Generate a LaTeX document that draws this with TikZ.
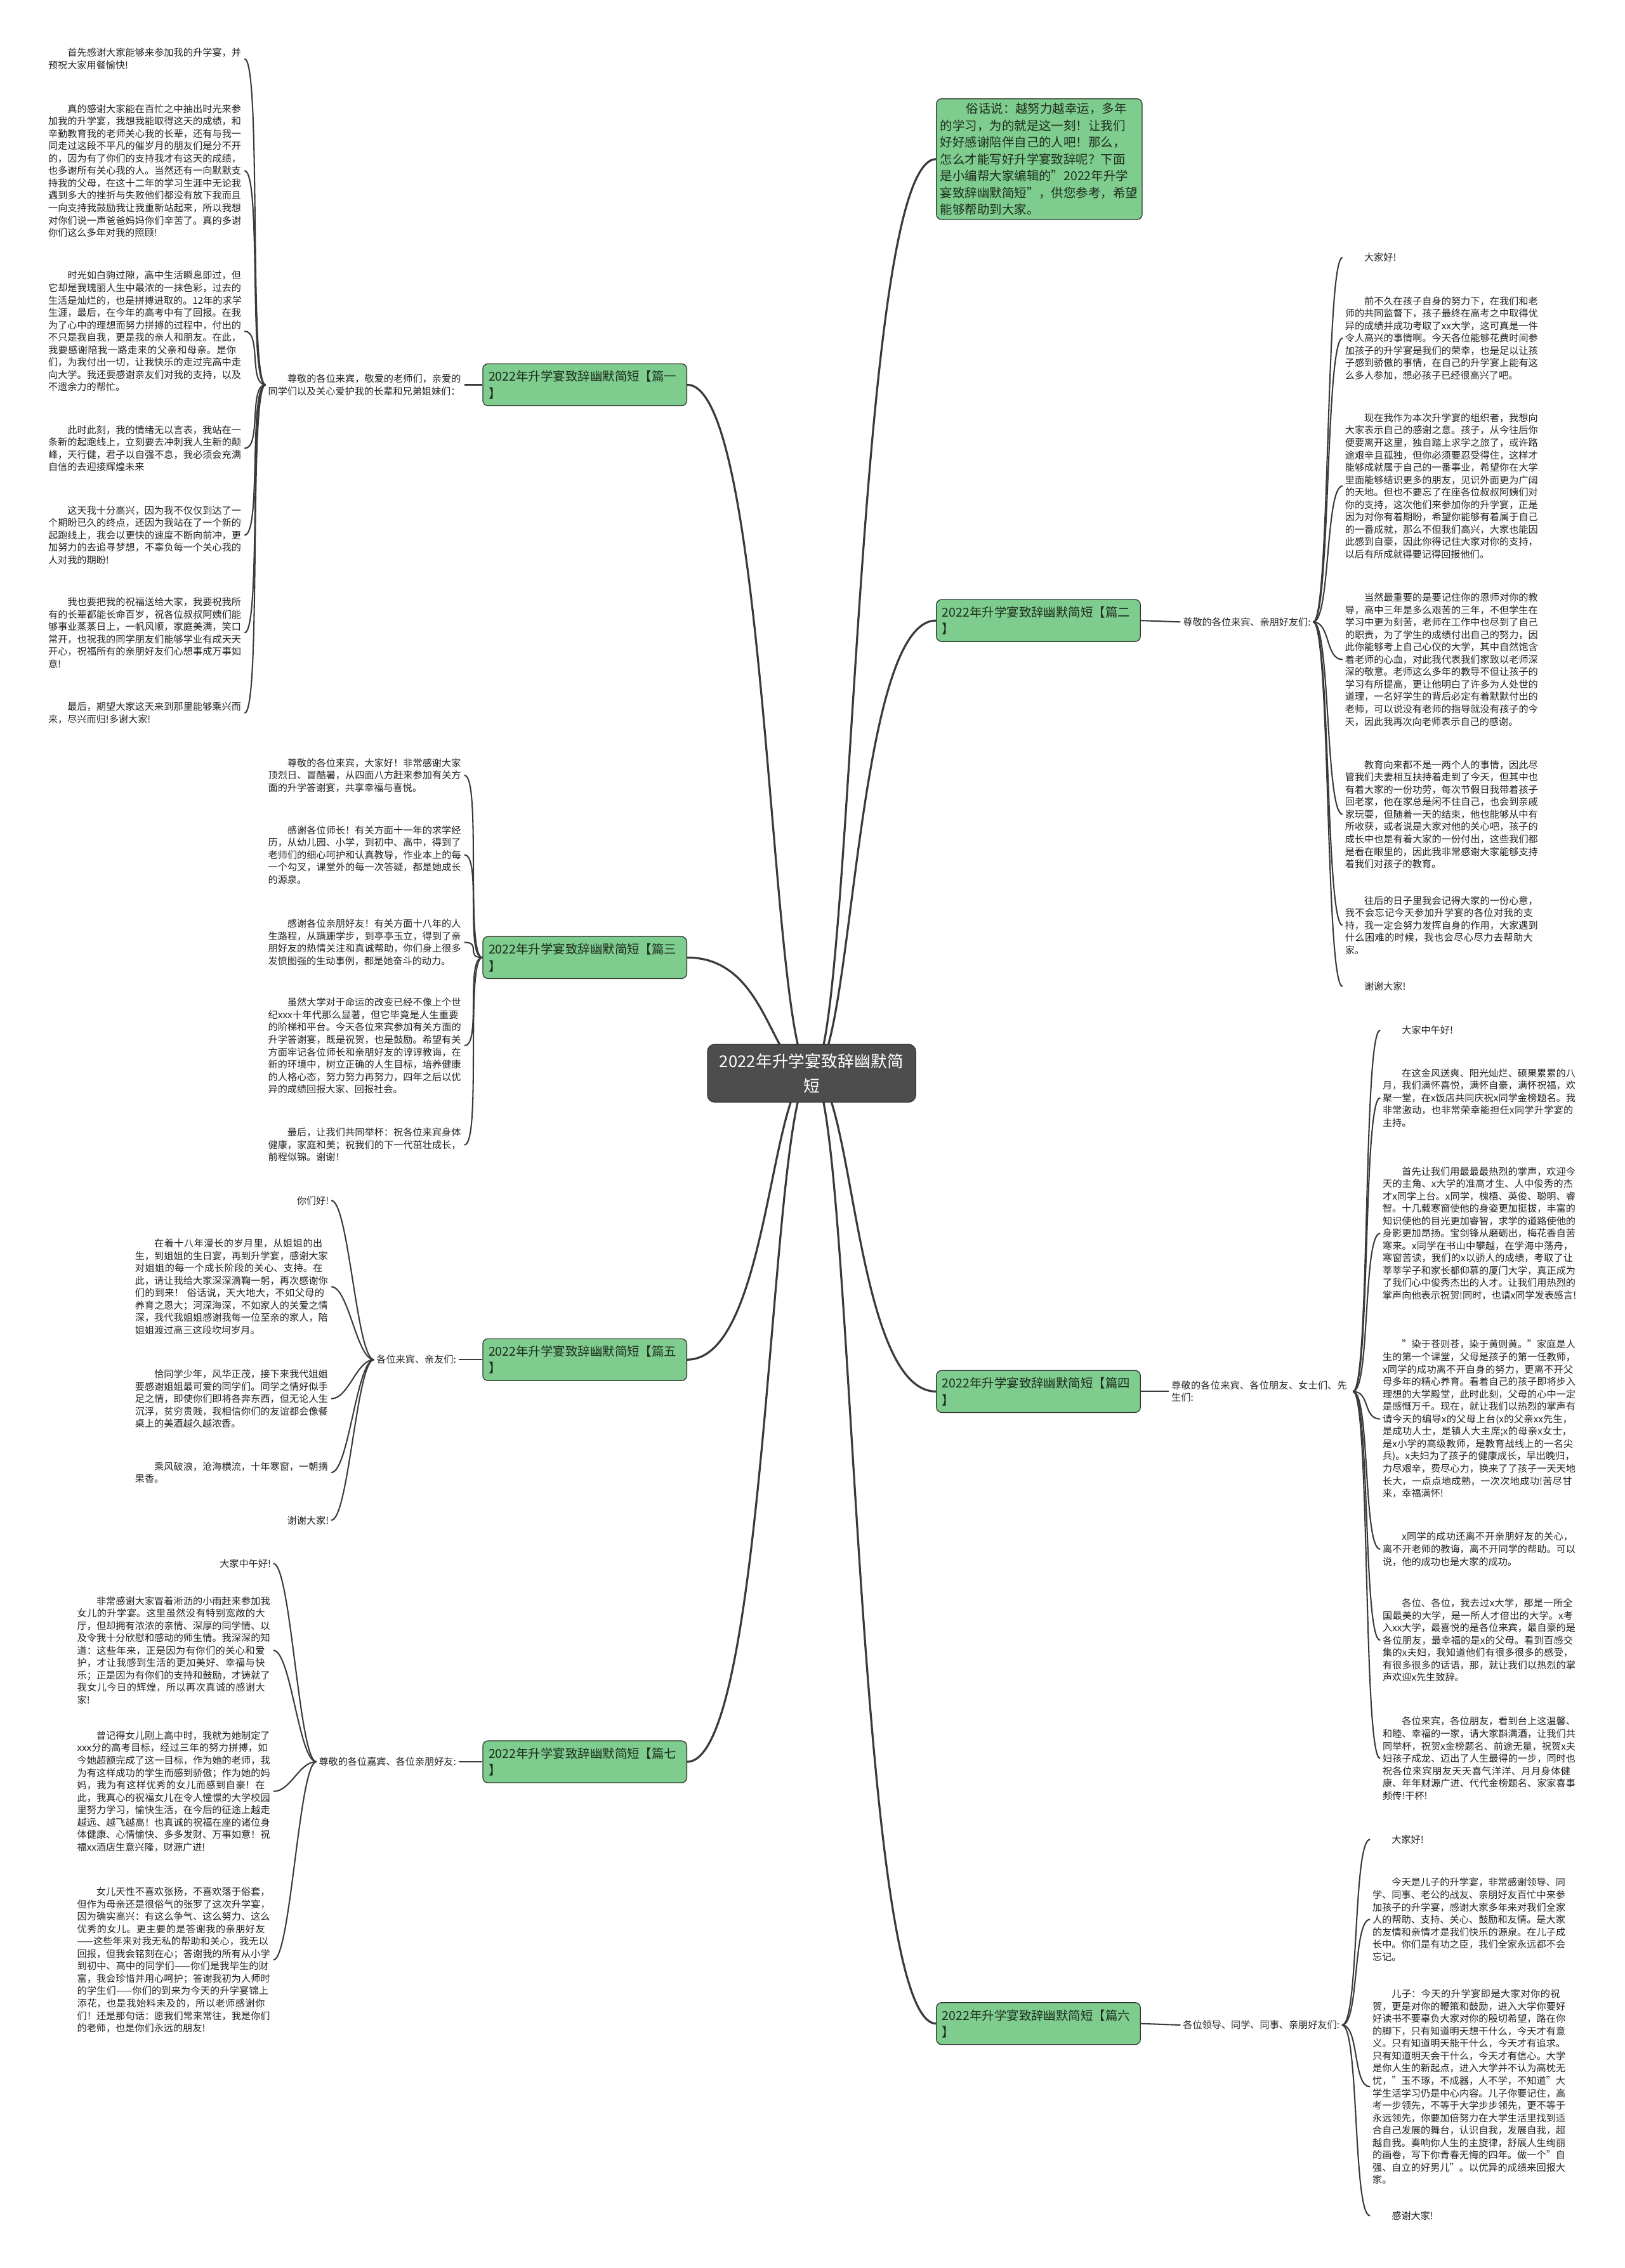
\documentclass[tikz,border=0pt]{standalone}
\usepackage{fontspec}
\setmainfont{Noto Sans CJK SC}
\XeTeXlinebreaklocale "zh"
\XeTeXlinebreakskip=0pt plus 1pt
\pgfdeclarelayer{bg}
\pgfsetlayers{bg,main}
\definecolor{gfill}{RGB}{127,204,143}
\definecolor{gline}{RGB}{45,55,45}
\definecolor{gtext}{RGB}{30,45,30}
\definecolor{cfill}{RGB}{77,77,77}
\definecolor{lk}{RGB}{58,58,58}
\definecolor{txt}{RGB}{34,34,34}
\newcommand{\pind}{\hspace*{2em}}
\tikzset{
  para/.style={font=\fontsize{9.45pt}{12.2pt}\selectfont, text=txt, text width=190.5pt, align=left, inner sep=0.08cm},
  shortp/.style={font=\fontsize{9.45pt}{12.2pt}\selectfont, text=txt, inner sep=0.08cm},
  topic/.style={draw=gline, line width=0.8pt, fill=gfill, rounded corners=0.18cm,
    font=\fontsize{12.15pt}{16.5pt}\selectfont, text=gtext, text width=6.65cm, align=left,
    inner xsep=0.2cm, inner ysep=0.15cm, minimum height=1.45cm},
  root/.style={draw=cfill!70!black, line width=0.8pt, fill=cfill, rounded corners=0.25cm,
    font=\fontsize{16pt}{24pt}\selectfont, text=white, text width=6.8cm, align=center,
    minimum width=7.2cm, minimum height=2cm, inner sep=0.15cm},
  link/.style={draw=lk, line width=1.3pt},
  mainlink/.style={draw=lk, line width=2pt},
}
\begin{document}
\begin{tikzpicture}[x=0.05cm,y=-0.05cm]
\useasboundingbox (0,0) rectangle (1123,1568);

% ---------- root and topics ----------
\node[root] (C) at (561,742) {2022年升学宴致辞幽默简\\短};
\node[topic, anchor=north west, text width=6.85cm, inner xsep=0.13cm] (intro) at (647,68) {\hspace*{2.1em}俗话说：越努力越幸运，多年\\的学习，为的就是这一刻！让我们\\好好感谢陪伴自己的人吧！那么，\\怎么才能写好升学宴致辞呢？下面\\是小编帮大家编辑的"2022年升学\\宴致辞幽默简短"，供您参考，希望\\能够帮助到大家。};
\node[topic, anchor=east] (b1) at (475,266) {2022年升学宴致辞幽默简短【篇一\\】};
\node[topic, anchor=west] (b2) at (647,429) {2022年升学宴致辞幽默简短【篇二\\】};
\node[topic, anchor=east] (b3) at (475,662) {2022年升学宴致辞幽默简短【篇三\\】};
\node[topic, anchor=west] (b4) at (647,962) {2022年升学宴致辞幽默简短【篇四\\】};
\node[topic, anchor=east] (b5) at (475,940) {2022年升学宴致辞幽默简短【篇五\\】};
\node[topic, anchor=west] (b6) at (647,1399) {2022年升学宴致辞幽默简短【篇六\\】};
\node[topic, anchor=east] (b7) at (475,1218) {2022年升学宴致辞幽默简短【篇七\\】};

% ---------- labels ----------
\node[para, anchor=east] (l1) at (321,266) {\pind 尊敬的各位来宾，敬爱的老师们，亲爱的同学们以及关心爱护我的长辈和兄弟姐妹们：};
\node[shortp, anchor=west] (l2) at (816,430) {尊敬的各位来宾、亲朋好友们:};
\node[para, anchor=west, text width=176pt] (l4) at (808,962) {尊敬的各位来宾、各位朋友、女士们、先生们:};
\node[shortp, anchor=east] (l5) at (317,940) {各位来宾、亲友们:};
\node[shortp, anchor=west] (l6) at (816,1400) {各位领导、同学、同事、亲朋好友们:};
\node[shortp, anchor=east] (l7) at (317,1218) {尊敬的各位嘉宾、各位亲朋好友:};

% ---------- branch 1 ----------
\node[para, anchor=east] (p11) at (169,40.7) {\pind 首先感谢大家能够来参加我的升学宴，并预祝大家用餐愉快!};
\node[para, anchor=east] (p12) at (169,118) {\pind 真的感谢大家能在百忙之中抽出时光来参加我的升学宴，我想我能取得这天的成绩，和辛勤教育我的老师关心我的长辈，还有与我一同走过这段不平凡的催岁月的朋友们是分不开的，因为有了你们的支持我才有这天的成绩，也多谢所有关心我的人。当然还有一向默默支持我的父母，在这十二年的学习生涯中无论我遇到多大的挫折与失败他们都没有放下我而且一向支持我鼓励我让我重新站起来，所以我想对你们说一声爸爸妈妈你们辛苦了。真的多谢你们这么多年对我的照顾!};
\node[para, anchor=east] (p13) at (169,229) {\pind 时光如白驹过隙，高中生活瞬息即过，但它却是我瑰丽人生中最浓的一抹色彩，过去的生活是灿烂的，也是拼搏进取的。12年的求学生涯，最后，在今年的高考中有了回报。在我为了心中的理想而努力拼搏的过程中，付出的不只是我自我，更是我的亲人和朋友。在此，我要感谢陪我一路走来的父亲和母亲。是你们，为我付出一切，让我快乐的走过完高中走向大学。我还要感谢亲友们对我的支持，以及不遗余力的帮忙。};
\node[para, anchor=east] (p14) at (169,310) {\pind 此时此刻，我的情绪无以言表，我站在一条新的起跑线上，立刻要去冲刺我人生新的颠峰，天行健，君子以自强不息，我必须会充满自信的去迎接辉煌未来};
\node[para, anchor=east] (p15) at (169,370) {\pind 这天我十分高兴，因为我不仅仅到达了一个期盼已久的终点，还因为我站在了一个新的起跑线上，我会以更快的速度不断向前冲，更加努力的去追寻梦想，不辜负每一个关心我的人对我的期盼!};
\node[para, anchor=east] (p16) at (169,437.5) {\pind 我也要把我的祝福送给大家，我要祝我所有的长辈都能长命百岁，祝各位叔叔阿姨们能够事业蒸蒸日上，一帆风顺，家庭美满，笑口常开，也祝我的同学朋友们能够学业有成天天开心，祝福所有的亲朋好友们心想事成万事如意!};
\node[para, anchor=east] (p17) at (169,493) {\pind 最后，期望大家这天来到那里能够乘兴而来，尽兴而归!多谢大家!};

% ---------- branch 3 ----------
\node[para, anchor=east] (p31) at (321,536) {\pind 尊敬的各位来宾，大家好！非常感谢大家顶烈日、冒酷暑，从四面八方赶来参加有关方面的升学答谢宴，共享幸福与喜悦。};
\node[para, anchor=east] (p32) at (321,591) {\pind 感谢各位师长！有关方面十一年的求学经历，从幼儿园、小学，到初中、高中，得到了老师们的细心呵护和认真教导，作业本上的每一个勾叉，课堂外的每一次答疑，都是她成长的源泉。};
\node[para, anchor=east] (p33) at (321,651.5) {\pind 感谢各位亲朋好友！有关方面十八年的人生路程，从蹒跚学步，到亭亭玉立，得到了亲朋好友的热情关注和真诚帮助，你们身上很多发愤图强的生动事例，都是她奋斗的动力。};
\node[para, anchor=east] (p34) at (321,723) {\pind 虽然大学对于命运的改变已经不像上个世纪xxx十年代那么显著，但它毕竟是人生重要的阶梯和平台。今天各位来宾参加有关方面的升学答谢宴，既是祝贺，也是鼓励。希望有关方面牢记各位师长和亲朋好友的谆谆教诲，在新的环境中，树立正确的人生目标，培养健康的人格心态，努力努力再努力，四年之后以优异的成绩回报大家、回报社会。};
\node[para, anchor=east] (p35) at (321,791.5) {\pind 最后，让我们共同举杯：祝各位来宾身体健康，家庭和美；祝我们的下一代茁壮成长，前程似锦。谢谢！};

% ---------- branch 5 ----------
\node[shortp, anchor=east] (p51) at (229,830) {\pind 你们好!};
\node[para, anchor=east] (p52) at (229,889.6) {\pind 在着十八年漫长的岁月里，从姐姐的出生，到姐姐的生日宴，再到升学宴，感谢大家对姐姐的每一个成长阶段的关心、支持。在此，请让我给大家深深滴鞠一躬，再次感谢你们的到来！ 俗话说，天大地大，不如父母的养育之恩大；河深海深，不如家人的关爱之情深，我代我姐姐感谢我每一位至亲的家人，陪姐姐渡过高三这段坎坷岁月。};
\node[para, anchor=east] (p53) at (229,967) {\pind 恰同学少年，风华正茂，接下来我代姐姐要感谢姐姐最可爱的同学们。同学之情好似手足之情，即使你们即将各奔东西，但无论人生沉浮，贫穷贵贱，我相信你们的友谊都会像餐桌上的美酒越久越浓香。};
\node[para, anchor=east] (p54) at (229,1018) {\pind 乘风破浪，沧海横流，十年寒窗，一朝摘果香。};
\node[shortp, anchor=east] (p55) at (229,1051) {\pind 谢谢大家!};

% ---------- branch 7 ----------
\node[shortp, anchor=east] (p71) at (189,1081) {\pind 大家中午好!};
\node[para, anchor=east] (p72) at (189,1141) {\pind 非常感谢大家冒着淅沥的小雨赶来参加我女儿的升学宴。这里虽然没有特别宽敞的大厅，但却拥有浓浓的亲情、深厚的同学情、以及令我十分欣慰和感动的师生情。我深深的知道：这些年来，正是因为有你们的关心和爱护，才让我感到生活的更加美好、幸福与快乐；正是因为有你们的支持和鼓励，才铸就了我女儿今日的辉煌，所以再次真诚的感谢大家!};
\node[para, anchor=east] (p73) at (189,1238.5) {\pind 曾记得女儿刚上高中时，我就为她制定了xxx分的高考目标，经过三年的努力拼搏，如今她超额完成了这一目标，作为她的老师，我为有这样成功的学生而感到骄傲；作为她的妈妈，我为有这样优秀的女儿而感到自豪！在此，我真心的祝福女儿在令人憧憬的大学校园里努力学习，愉快生活，在今后的征途上越走越远、越飞越高！也真诚的祝福在座的诸位身体健康、心情愉快、多多发财、万事如意！祝福xx酒店生意兴隆，财源广进!};
\node[para, anchor=east] (p74) at (189,1355) {\pind 女儿天性不喜欢张扬，不喜欢落于俗套，但作为母亲还是很俗气的张罗了这次升学宴，因为确实高兴：有这么争气、这么努力、这么优秀的女儿。更主要的是答谢我的亲朋好友——这些年来对我无私的帮助和关心，我无以回报，但我会铭刻在心；答谢我的所有从小学到初中、高中的同学们——你们是我毕生的财富，我会珍惜并用心呵护；答谢我初为人师时的学生们——你们的到来为今天的升学宴锦上添花，也是我始料未及的，所以老师感谢你们！还是那句话：愿我们常来常往，我是你们的老师，也是你们永远的朋友!};

% ---------- branch 2 ----------
\node[shortp, anchor=west] (p21) at (928,178) {\pind 大家好!};
\node[para, anchor=west] (p22) at (928,233.8) {\pind 前不久在孩子自身的努力下，在我们和老师的共同监督下，孩子最终在高考之中取得优异的成绩并成功考取了xx大学，这可真是一件令人高兴的事情啊。今天各位能够花费时间参加孩子的升学宴是我们的荣幸，也是足以让孩子感到骄傲的事情，在自己的升学宴上能有这么多人参加，想必孩子已经很高兴了吧。};
\node[para, anchor=west] (p23) at (928,336) {\pind 现在我作为本次升学宴的组织者，我想向大家表示自己的感谢之意。孩子，从今往后你便要离开这里，独自踏上求学之旅了，或许路途艰辛且孤独，但你必须要忍受得住，这样才能够成就属于自己的一番事业，希望你在大学里面能够结识更多的朋友，见识外面更为广阔的天地。但也不要忘了在座各位叔叔阿姨们对你的支持，这次他们来参加你的升学宴，正是因为对你有着期盼，希望你能够有着属于自己的一番成就，那么不但我们高兴，大家也能因此感到自豪，因此你得记住大家对你的支持，以后有所成就得要记得回报他们。};
\node[para, anchor=west] (p24) at (928,456) {\pind 当然最重要的是要记住你的恩师对你的教导，高中三年是多么艰苦的三年，不但学生在学习中更为刻苦，老师在工作中也尽到了自己的职责，为了学生的成绩付出自己的努力，因此你能够考上自己心仪的大学，其中自然饱含着老师的心血，对此我代表我们家致以老师深深的敬意。老师这么多年的教导不但让孩子的学习有所提高，更让他明白了许多为人处世的道理，一名好学生的背后必定有着默默付出的老师，可以说没有老师的指导就没有孩子的今天，因此我再次向老师表示自己的感谢。};
\node[para, anchor=west] (p25) at (928,563) {\pind 教育向来都不是一两个人的事情，因此尽管我们夫妻相互扶持着走到了今天，但其中也有着大家的一份功劳，每次节假日我带着孩子回老家，他在家总是闲不住自己，也会到亲戚家玩耍，但随着一天的结束，他也能够从中有所收获，或者说是大家对他的关心吧，孩子的成长中也是有着大家的一份付出，这些我们都是看在眼里的，因此我非常感谢大家能够支持着我们对孩子的教育。};
\node[para, anchor=west] (p26) at (928,639.7) {\pind 往后的日子里我会记得大家的一份心意，我不会忘记今天参加升学宴的各位对我的支持，我一定会努力发挥自身的作用，大家遇到什么困难的时候，我也会尽心尽力去帮助大家。};
\node[shortp, anchor=west] (p27) at (928,682) {\pind 谢谢大家!};

% ---------- branch 4 ----------
\node[shortp, anchor=west] (p41) at (954,712.3) {\pind 大家中午好!};
\node[para, anchor=west] (p42) at (954,759) {\pind 在这金风送爽、阳光灿烂、硕果累累的八月，我们满怀喜悦，满怀自豪，满怀祝福，欢聚一堂，在x饭店共同庆祝x同学金榜题名。我非常激动，也非常荣幸能担任x同学升学宴的主持。};
\node[para, anchor=west] (p43) at (954,852.7) {\pind 首先让我们用最最最热烈的掌声，欢迎今天的主角、x大学的准高才生、人中俊秀的杰才x同学上台。x同学，槐梧、英俊、聪明、睿智。十几载寒窗使他的身姿更加挺拔，丰富的知识使他的目光更加睿智，求学的道路使他的身影更加昂扬。宝剑锋从磨砺出，梅花香自苦寒来。x同学在书山中攀越，在学海中荡舟，寒窗苦读，我们的x以骄人的成绩，考取了让莘莘学子和家长都仰慕的厦门大学，真正成为了我们心中俊秀杰出的人才。让我们用热烈的掌声向他表示祝贺!同时，也请x同学发表感言!};
\node[para, anchor=west] (p44) at (954,981) {\pind "染于苍则苍，染于黄则黄。"家庭是人生的第一个课堂，父母是孩子的第一任教师，x同学的成功离不开自身的努力，更离不开父母多年的精心养育。看着自己的孩子即将步入理想的大学殿堂，此时此刻，父母的心中一定是感慨万千。现在，就让我们以热烈的掌声有请今天的编导x的父母上台(x的父亲xx先生，是成功人士，是镇人大主席;x的母亲x女士，是x小学的高级教师，是教育战线上的一名尖兵)。x夫妇为了孩子的健康成长，早出晚归，力尽艰辛，费尽心力，换来了了孩子一天天地长大，一点点地成熟，一次次地成功!苦尽甘来，幸福满怀!};
\node[para, anchor=west] (p45) at (954,1071) {\pind x同学的成功还离不开亲朋好友的关心，离不开老师的教诲，离不开同学的帮助。可以说，他的成功也是大家的成功。};
\node[para, anchor=west] (p46) at (954,1134) {\pind 各位、各位，我去过x大学，那是一所全国最美的大学，是一所人才倍出的大学。x考入xx大学，最喜悦的是各位来宾，最自豪的是各位朋友，最幸福的是x的父母。看到百感交集的x夫妇，我知道他们有很多很多的感受，有很多很多的话语，那，就让我们以热烈的掌声欢迎x先生致辞。};
\node[para, anchor=west] (p47) at (954,1215.7) {\pind 各位来宾，各位朋友，看到台上这温馨、和睦、幸福的一家，请大家斟满酒，让我们共同举杯，祝贺x金榜题名、前途无量，祝贺x夫妇孩子成龙、迈出了人生最得的一步，同时也祝各位来宾朋友天天喜气洋洋、月月身体健康、年年财源广进、代代金榜题名、家家喜事频传!干杯!};

% ---------- branch 6 ----------
\node[shortp, anchor=west] (p61) at (947,1271.7) {\pind 大家好!};
\node[para, anchor=west] (p62) at (947,1327) {\pind 今天是儿子的升学宴，非常感谢领导、同学、同事、老公的战友、亲朋好友百忙中来参加孩子的升学宴，感谢大家多年来对我们全家人的帮助、支持、关心、鼓励和友情。是大家的友情和亲情才是我们快乐的源泉。在儿子成长中。你们是有功之臣，我们全家永远都不会忘记。};
\node[para, anchor=west] (p63) at (947,1442.7) {\pind 儿子：今天的升学宴即是大家对你的祝贺，更是对你的鞭策和鼓励，进入大学你要好好读书不要辜负大家对你的殷切希望，路在你的脚下，只有知道明天想干什么，今天才有意义。只有知道明天能干什么，今天才有追求。只有知道明天会干什么，今天才有信心。大学是你人生的新起点，进入大学并不认为高枕无忧，"玉不琢，不成器，人不学，不知道"大学生活学习仍是中心内容。儿子你要记住，高考一步领先，不等于大学步步领先，更不等于永远领先，你要加倍努力在大学生活里找到适合自己发展的舞台，认识自我，发展自我，超越自我。奏响你人生的主旋律，舒展人生绚丽的画卷，写下你青春无悔的四年。做一个"自强、自立的好男儿"。以优异的成绩来回报大家。};
\node[shortp, anchor=west] (p64) at (947,1531.8) {\pind 感谢大家!};

% ---------- connectors ----------
\begin{pgfonlayer}{bg}
  \fill[white] (0,0) rectangle (1123,1568);
  \foreach \n in {intro,b2,b4,b6}
    \draw[mainlink] (C.center) .. controls +(29,0) and +(-57,0) .. (\n.west);
  \foreach \n in {b1,b3,b5,b7}
    \draw[mainlink] (C.center) .. controls +(-29,0) and +(57,0) .. (\n.east);
  \draw[link] (b1.west) -- (l1.east);
  \draw[link] (b2.east) -- (l2.west);
  \draw[link] (b4.east) -- (l4.west);
  \draw[link] (b5.west) -- (l5.east);
  \draw[link] (b6.east) -- (l6.west);
  \draw[link] (b7.west) -- (l7.east);
  \foreach \p in {p11,p12,p13,p14,p15,p16,p17}
    \draw[link] (l1.west) .. controls +(-12,0) and +(12,0) .. (\p.east);
  \foreach \p in {p31,p32,p33,p34,p35}
    \draw[link] (b3.west) .. controls +(-12,0) and +(12,0) .. (\p.east);
  \foreach \p in {p51,p52,p53,p54,p55}
    \draw[link] (l5.west) .. controls +(-12,0) and +(12,0) .. (\p.east);
  \foreach \p in {p71,p72,p73,p74}
    \draw[link] (l7.west) .. controls +(-12,0) and +(12,0) .. (\p.east);
  \foreach \p in {p21,p22,p23,p24,p25,p26,p27}
    \draw[link] (l2.east) .. controls +(12,0) and +(-12,0) .. (\p.west);
  \foreach \p in {p41,p42,p43,p44,p45,p46,p47}
    \draw[link] (l4.east) .. controls +(12,0) and +(-12,0) .. (\p.west);
  \foreach \p in {p61,p62,p63,p64}
    \draw[link] (l6.east) .. controls +(12,0) and +(-12,0) .. (\p.west);
\end{pgfonlayer}
\end{tikzpicture}
\end{document}
